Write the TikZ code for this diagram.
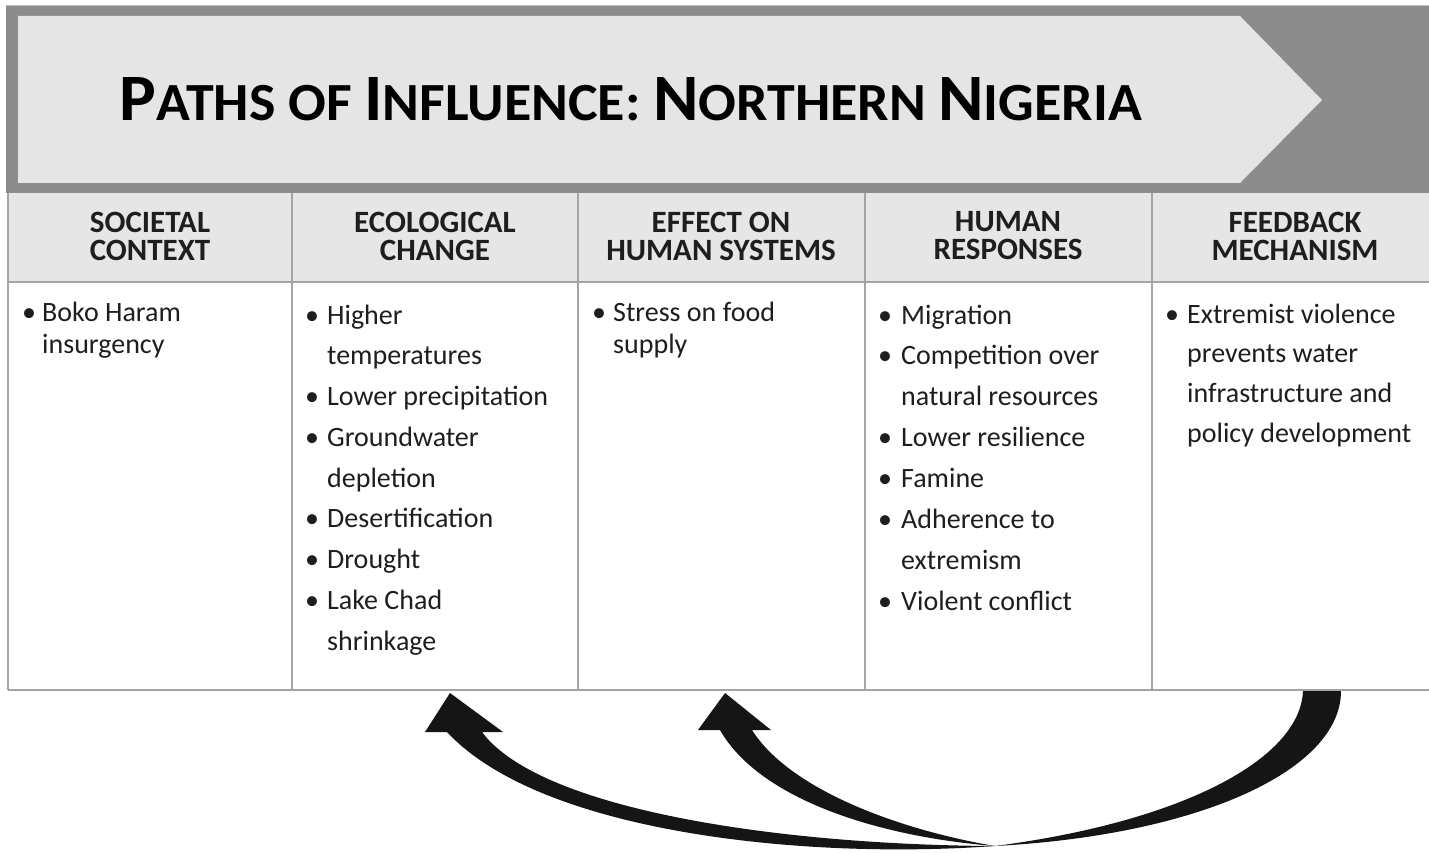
\documentclass[tikz,border=0pt]{standalone}
\usepackage{fontspec}
\setmainfont{Carlito}
\definecolor{band}{HTML}{8C8C8C}
\definecolor{chev}{HTML}{E5E5E5}
\definecolor{headfill}{HTML}{E6E6E6}
\definecolor{rule}{HTML}{A4A4A4}
\definecolor{ink}{HTML}{1E1E1E}
\definecolor{arrowink}{HTML}{151515}
\newcommand\BigC[1]{{\fontsize{50}{50}\selectfont #1}}
\newcommand\SmlC[1]{{\fontsize{40.5}{50}\selectfont #1}}
\begin{document}
\begin{tikzpicture}[x=1pt,y=-1pt,
  gridline/.style={draw=rule,line width=1.8pt},
  headtxt/.style={font=\bfseries\fontsize{31}{28}\selectfont,text=ink,align=center,inner sep=0pt,anchor=center},
  body/.style={font=\fontsize{28}{34}\selectfont,text=ink,inner sep=0pt,anchor=base west},
  bul/.style={font=\fontsize{28}{34}\selectfont,text=ink,inner sep=0pt,anchor=base},
  bigarrow/.style={fill=arrowink,draw=none}]
\useasboundingbox (0,0) rectangle (1429,853);
\fill[white] (0,0) rectangle (1429,853);
% banner
\fill[band] (6,6) rectangle (1429,193);
\draw[draw=black!25,line width=1pt] (6,5.5) -- (1429,5.5);
\fill[chev] (18,16) -- (1240,16) -- (1322,100) -- (1240,183) -- (18,183) -- cycle;
\node[inner sep=0pt,anchor=base,text=black] (title) at (631,121)
  {\resizebox{1022pt}{43pt}{\bfseries\BigC{P}\SmlC{ATHS OF }\BigC{I}\SmlC{NFLUENCE: }\BigC{N}\SmlC{ORTHERN }\BigC{N}\SmlC{IGERIA}}};
% table
\fill[headfill] (8,193) rectangle (1429,282);
\draw[gridline] (8,282) -- (1429,282);
\draw[gridline] (8,690) -- (1429,690);
\foreach \cx in {8,292,578,865,1152}{\draw[gridline] (\cx,193) -- (\cx,690);}
% headers
\node[headtxt] (h1) at (150,236) {SOCIETAL\\CONTEXT};
\node[headtxt] (h2) at (435,236) {ECOLOGICAL\\CHANGE};
\node[headtxt] (h3) at (721,236) {EFFECT ON\\HUMAN SYSTEMS};
\node[headtxt] (h4) at (1008,236) {HUMAN\\RESPONSES};
\node[headtxt] (h5) at (1295,236) {FEEDBACK\\MECHANISM};
% column 1
\foreach \t/\b [count=\i from 0] in {Boko Haram/1,insurgency/0}{
  \node[body] (ca\i) at (42,321+32*\i) {\t};
  \ifnum\b=1 \node[bul] (cab\i) at (29,321+32*\i) {\textbullet};\fi}
% column 2
\foreach \t/\b [count=\i from 0] in {Higher/1,temperatures/0,Lower precipitation/1,Groundwater/1,depletion/0,Desertification/1,Drought/1,Lake Chad/1,shrinkage/0}{
  \node[body] (cb\i) at (327,324+40.75*\i) {\t};
  \ifnum\b=1 \node[bul] (cbb\i) at (312,324+40.75*\i) {\textbullet};\fi}
% column 3
\foreach \t/\b [count=\i from 0] in {Stress on food/1,supply/0}{
  \node[body] (cc\i) at (613,321+32*\i) {\t};
  \ifnum\b=1 \node[bul] (ccb\i) at (599,321+32*\i) {\textbullet};\fi}
% column 4
\foreach \t/\b [count=\i from 0] in {Migration/1,Competition over/1,natural resources/0,Lower resilience/1,Famine/1,Adherence to/1,extremism/0,Violent conflict/1}{
  \node[body] (cd\i) at (901,324+40.9*\i) {\t};
  \ifnum\b=1 \node[bul] (cdb\i) at (885,324+40.9*\i) {\textbullet};\fi}
% column 5
\foreach \t/\b [count=\i from 0] in {Extremist violence/1,prevents water/0,infrastructure and/0,policy development/0}{
  \node[body] (ce\i) at (1187,323+39.7*\i) {\t};
  \ifnum\b=1 \node[bul] (ceb\i) at (1172,323+39.7*\i) {\textbullet};\fi}
% feedback arrows
\coordinate (meet) at (995,846);
\coordinate (srcL) at (1303,691);
\coordinate (srcR) at (1341,691);
\fill[bigarrow] (srcL) -- (srcR) .. controls (1341,770) and (1200,835) .. (meet)
  .. controls (1180,822) and (1300,760) .. (srcL) -- cycle;
\fill[bigarrow] (447,732) -- (425,732) -- (450,693) -- (503,732) -- (482,732)
  .. controls (540,810) and (780,845) .. (meet)
  .. controls (800,860) and (540,832) .. (447,732) -- cycle;
\fill[bigarrow] (720,730) -- (698,730) -- (725,693) -- (771,730) -- (752,730)
  .. controls (790,790) and (900,830) .. (meet)
  .. controls (880,837) and (760,800) .. (720,730) -- cycle;
\end{tikzpicture}
\end{document}
